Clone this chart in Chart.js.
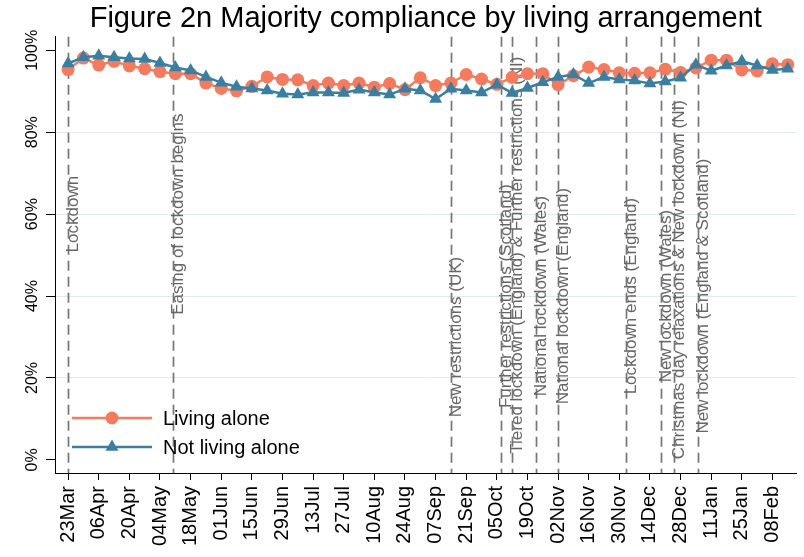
<!DOCTYPE html>
<html>
<head>
<meta charset="utf-8">
<script src="https://cdn.jsdelivr.net/npm/chart.js@4/dist/chart.umd.min.js"></script>
<style>
  html, body { margin: 0; padding: 0; background: #ffffff; }
  #wrap { width: 804px; height: 557px; }
</style>
</head>
<body>
<div id="wrap"><canvas id="c" width="804" height="557"></canvas></div>
<script>
// ---- Data (days since 23 Mar 2020) ----
const surveyDays = [0,7,14,21,28,35,42,49,56,63,70,77,84,91,98,105,112,119,126,133,140,147,154,161,168,175,182,189,196,203,210,217,224,231,238,245,252,259,266,273,280,287,294,301,308,315,322,329];
const livingAlone = [95.3,98.1,96.4,97.3,96.2,95.5,94.8,94.3,94.3,92.0,90.7,90.1,91.2,93.5,92.9,92.8,91.4,92.0,91.4,92.0,91.0,91.9,90.4,93.3,91.4,92.0,94.1,93.0,91.7,93.4,94.3,94.3,91.6,93.8,95.9,95.3,94.5,94.4,94.5,95.4,94.6,95.7,97.6,97.6,95.2,95.0,96.7,96.5];
const notLivingAlone = [96.8,98.3,98.7,98.3,98.0,97.9,96.9,95.8,95.1,93.5,92.1,91.1,90.7,90.2,89.4,89.2,89.7,89.7,89.6,90.4,89.7,89.2,90.6,90.2,88.1,90.6,90.2,89.7,91.6,89.6,90.8,92.2,93.5,94.1,92.0,93.5,92.9,92.6,91.9,92.4,93.3,96.5,95.0,96.3,97.3,96.3,95.2,95.5];
const seriesNames = ['Living alone', 'Not living alone'];

const tickDays = [0,14,28,42,56,70,84,98,112,126,140,154,168,182,196,210,224,238,252,266,280,294,308,322];
const tickLabels = ['23Mar','06Apr','20Apr','04May','18May','01Jun','15Jun','29Jun','13Jul','27Jul','10Aug','24Aug','07Sep','21Sep','05Oct','19Oct','02Nov','16Nov','30Nov','14Dec','28Dec','11Jan','25Jan','08Feb'];
const yTicks = [0,20,40,60,80,100];

const eventDays = [0,48,175,198,203,214,224,255,271,277,288];
const eventLabels = ['Lockdown','Easing of lockdown begins','New restrictions (UK)','Further restrictions (Scotland)','Tiered lockdown (England) & Further restrictions (NI)','National lockdown (Wales)','National lockdown (England)','Lockdown ends (England)','New lockdown (Wales)','Christmas day relaxations & New lockdown (NI)','New lockdown (England & Scotland)'];
const eventLabelY = [60,60,30,40,50,40,40,40,40,44,40];

const titleText = 'Figure 2n Majority compliance by living arrangement';

// ---- Styles ----
const FONT = "'Liberation Sans', Arial, Helvetica, sans-serif";
const ORANGE = '#f47b5e';
const BLUE = '#3a7fa2';
const GRID = '#e1ebee';

Chart.defaults.font.family = FONT;
Chart.defaults.color = '#000';

function rotText(ctx, text, x, y, align) {
  ctx.save();
  ctx.translate(x, y);
  ctx.rotate(-Math.PI / 2);
  ctx.textAlign = align;
  ctx.textBaseline = 'middle';
  ctx.fillText(text, 0, 0);
  ctx.restore();
}

const eventsPlugin = {
  id: 'events',
  beforeDatasetsDraw(chart) {
    const ctx = chart.ctx, xs = chart.scales.x, ys = chart.scales.y, a = chart.chartArea;
    ctx.save();
    ctx.strokeStyle = '#757575';
    ctx.lineWidth = 1.7;
    ctx.setLineDash([10, 6]);
    eventDays.forEach(d => {
      const x = Math.round(xs.getPixelForValue(d)) + 0.5;
      ctx.beginPath();
      ctx.moveTo(x, a.top);
      ctx.lineTo(x, a.bottom);
      ctx.stroke();
    });
    ctx.setLineDash([]);
    ctx.fillStyle = '#666666';
    ctx.font = '17px ' + FONT;
    eventDays.forEach((d, i) => {
      rotText(ctx, eventLabels[i], xs.getPixelForValue(d) + 5.5, ys.getPixelForValue(eventLabelY[i]), 'center');
    });
    ctx.restore();
  }
};

const tickLabelPlugin = {
  id: 'tickLabels',
  afterDraw(chart) {
    const ctx = chart.ctx, xs = chart.scales.x, ys = chart.scales.y;
    ctx.save();
    ctx.fillStyle = '#000';
    ctx.font = '20px ' + FONT;
    tickDays.forEach((d, i) => {
      rotText(ctx, tickLabels[i], xs.getPixelForValue(d), xs.top + 13, 'right');
    });
    ctx.font = '16px ' + FONT;
    yTicks.forEach(v => {
      rotText(ctx, v + '%', ys.right - 22.5, ys.getPixelForValue(v), 'center');
    });
    ctx.restore();
  }
};

const legendPlugin = {
  id: 'customLegend',
  afterDatasetsDraw(chart) {
    const ctx = chart.ctx;
    const items = [
      {name: seriesNames[0], color: ORANGE, style: 'circle', y: 418},
      {name: seriesNames[1], color: BLUE, style: 'triangle', y: 447}
    ];
    ctx.save();
    items.forEach(it => {
      ctx.strokeStyle = it.color;
      ctx.fillStyle = it.color;
      ctx.lineWidth = 2.5;
      ctx.beginPath();
      ctx.moveTo(72, it.y);
      ctx.lineTo(152, it.y);
      ctx.stroke();
      ctx.beginPath();
      if (it.style === 'circle') {
        ctx.arc(112, it.y, 6.5, 0, Math.PI * 2);
      } else {
        const r = 7.5;
        for (let k = 0; k < 3; k++) {
          const ang = k * 2 * Math.PI / 3;
          const px = 112 + Math.sin(ang) * r, py = it.y - Math.cos(ang) * r;
          if (k === 0) ctx.moveTo(px, py); else ctx.lineTo(px, py);
        }
        ctx.closePath();
      }
      ctx.fill();
      ctx.fillStyle = '#000';
      ctx.font = '20px ' + FONT;
      ctx.textAlign = 'left';
      ctx.textBaseline = 'middle';
      ctx.fillText(it.name, 163, it.y + 1);
    });
    ctx.restore();
  }
};

new Chart(document.getElementById('c'), {
  type: 'line',
  data: {
    datasets: [
      {
        label: seriesNames[0],
        data: surveyDays.map((d, i) => ({x: d, y: livingAlone[i]})),
        borderColor: ORANGE, backgroundColor: ORANGE,
        borderWidth: 2.5, pointStyle: 'circle', pointRadius: 6.5,
        pointBorderWidth: 0, pointBackgroundColor: ORANGE,
        tension: 0, order: 2
      },
      {
        label: seriesNames[1],
        data: surveyDays.map((d, i) => ({x: d, y: notLivingAlone[i]})),
        borderColor: BLUE, backgroundColor: BLUE,
        borderWidth: 2.5, pointStyle: 'triangle', pointRadius: 7.5,
        pointBorderWidth: 0, pointBackgroundColor: BLUE,
        tension: 0, order: 1
      }
    ]
  },
  options: {
    responsive: false,
    animation: false,
    devicePixelRatio: 1,
    layout: { padding: { left: 0, right: 4, top: 0, bottom: 0 } },
    plugins: {
      legend: { display: false },
      tooltip: { enabled: false },
      title: {
        display: true, text: titleText, fullSize: false,
        color: '#000', font: { size: 29, weight: 'normal', family: FONT },
        padding: { top: 2, bottom: 0 }
      }
    },
    scales: {
      x: {
        type: 'linear', min: -6, max: 333,
        afterBuildTicks: s => { s.ticks = tickDays.map(v => ({value: v})); },
        afterFit: s => { s.height = 84; },
        grid: { display: true, drawOnChartArea: false, drawTicks: true, tickLength: 7, tickColor: '#000', tickWidth: 1 },
        border: { display: true, color: '#000', width: 1 },
        ticks: { display: false }
      },
      y: {
        type: 'linear', min: -3.2, max: 103.3,
        afterBuildTicks: s => { s.ticks = yTicks.map(v => ({value: v})); },
        afterFit: s => { s.width = 55; },
        grid: {
          display: true, drawOnChartArea: true, drawTicks: true, tickLength: 9,
          tickColor: '#000', tickWidth: 1, lineWidth: 1,
          color: c => (c.tick && (c.tick.value === 0 || c.tick.value === 100)) ? 'rgba(0,0,0,0)' : GRID
        },
        border: { display: true, color: '#000', width: 1 },
        ticks: { display: false }
      }
    }
  },
  plugins: [eventsPlugin, tickLabelPlugin, legendPlugin]
});
</script>
</body>
</html>
